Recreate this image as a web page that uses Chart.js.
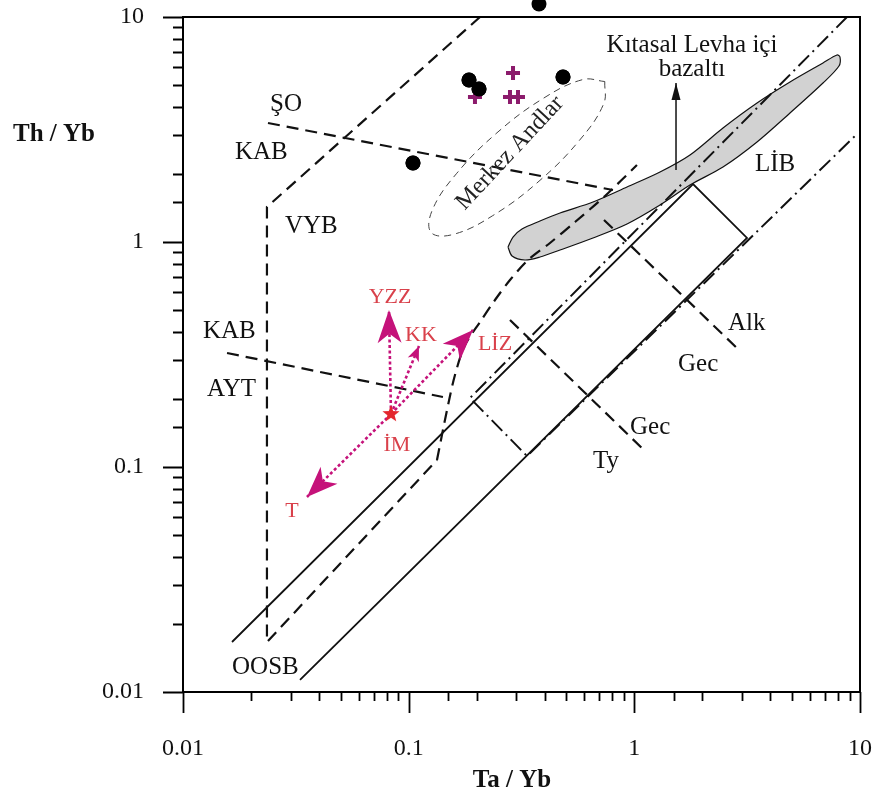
<!DOCTYPE html>
<html>
<head>
<meta charset="utf-8">
<script src="https://cdn.jsdelivr.net/npm/chart.js@4.4.1/dist/chart.umd.min.js"></script>
<style>
  html, body { margin: 0; padding: 0; background: #fff; }
  canvas { display: block; }
</style>
</head>
<body>
<canvas id="chart" width="873" height="798"></canvas>
<script>
// ─── DATA: Th/Yb vs Ta/Yb (log–log) ─────────────────────────────────────────
const TICK_VALUES = [0.01, 0.1, 1, 10];
const TICK_LABELS = ['0.01', '0.1', '1', '10'];

// samples
const DOT_X = [0.378, 0.1851, 0.2050, 0.4830, 0.1045];
const DOT_Y = [11.42, 5.248, 4.786, 5.412, 2.244];
const CROSS_X = [0.2900, 0.1967, 0.2812, 0.3051];
const CROSS_Y = [5.637, 4.411, 4.411, 4.411];

// volcanic arc field boundary (dashed): straight part, then curved part
const ARC_X = [0.2071, 0.02355, 0.02355, 0.1335];
const ARC_Y = [10, 1.431, 0.01668, 0.1074];
const ARC_CURVE_X = [0.1335, 0.1479, 0.1604, 0.1777, 0.2071, 0.2413, 0.2812, 0.3379, 0.4229, 0.5459, 0.7413, 1.027];
const ARC_CURVE_Y = [0.1074, 0.1792, 0.2564, 0.3485, 0.4410, 0.5523, 0.6779, 0.8318, 0.990, 1.227, 1.601, 2.199];

// SHO/CAB and CAB/TH divisions
const SHO_X = [0.0238, 0.8043];
const SHO_Y = [3.380, 1.702];
const THOL_X = [0.01567, 0.1419];
const THOL_Y = [0.3211, 0.2047];

// mantle array (solid) and its dash-dot twin
const ARRAY_X = [0.01649, 1.820, 3.157, 0.0330];
const ARRAY_Y = [0.01668, 1.810, 1.042, 0.01131];
const DASHDOT_X = [8.758, 0.1870, 0.3345, 9.797];
const DASHDOT_Y = [10, 0.2025, 0.1119, 3.051];

// transitional / alkaline cross lines
const GEC_LOW_X = [0.2812, 1.126];
const GEC_LOW_Y = [0.4500, 0.1166];
const GEC_HIGH_X = [0.7338, 2.939];
const GEC_HIGH_Y = [1.2524, 0.3279];

// within-plate basalt field (grey)
const WPB_X = [0.2755, 0.2900, 0.3178, 0.3819, 0.4685, 0.6558, 0.9280, 1.2995, 1.7647, 2.471, 3.497, 4.895, 6.855, 7.907, 8.153, 8.071,
               6.855, 4.895, 3.497, 2.471, 1.7647, 1.2995, 0.9280, 0.6558, 0.4685, 0.3819, 0.3277, 0.2871, 0.2755];
const WPB_Y = [0.9502, 1.0524, 1.1423, 1.2399, 1.3454, 1.5058, 1.7556, 2.047, 2.436, 3.211, 4.147, 5.141, 6.246, 6.779, 6.641, 6.056,
               5.089, 3.744, 2.783, 2.154, 1.792, 1.460, 1.2023, 1.042, 0.9213, 0.8577, 0.8318, 0.8666, 0.9502];
const WPB_ARROW_X = [1.530, 1.530];
const WPB_ARROW_Y = [2.089, 5.089];

// Central Andes outline (thin dashed)
const ANDES_X = [0.7397, 0.7314, 0.5720, 0.3780, 0.2359, 0.1577, 0.1258, 0.1272, 0.1627, 0.2462, 0.3946, 0.5904, 0.7397];
const ANDES_Y = [5.168, 4.113, 2.835, 1.863, 1.310, 1.081, 1.102, 1.384, 2.010, 3.057, 4.347, 5.270, 5.168];

// enrichment vectors from IM
const IM_X = 0.0835, IM_Y = 0.172;
const VEC_NAMES = ['YZZ', 'KK', 'LİZ', 'T'];
const VEC_X = [0.0818, 0.1111, 0.1928, 0.03543];
const VEC_Y = [0.4985, 0.3449, 0.4064, 0.0736];
const VEC_HEAD = [[33, 12], [15, 6], [31, 12], [31, 12]];

// field labels
const LABEL_TEXT = ['ŞO', 'KAB', 'VYB', 'KAB', 'AYT', 'OOSB', 'LİB', 'Alk', 'Gec', 'Gec', 'Ty'];
const LABEL_X = [0.02429, 0.01700, 0.02831, 0.01226, 0.01277, 0.01649, 3.426, 2.600, 1.561, 0.9568, 0.6558];
const LABEL_Y = [4.105, 2.512, 1.178, 0.4022, 0.2221, 0.01292, 2.222, 0.4365, 0.2870, 0.1506, 0.1063];
const WPB_TEXT = ['Kıtasal Levha içi', 'bazaltı'];
const WPB_TEXT_X = [1.801, 1.801];
const WPB_TEXT_Y = [7.508, 5.873];
const RED_TEXT = ['YZZ', 'KK', 'LİZ', 'T', 'İM'];
const RED_X = [0.08268, 0.1134, 0.2413, 0.0304, 0.0887];
const RED_Y = [0.5695, 0.3861, 0.3521, 0.0637, 0.1253];
const ANDES_TEXT = 'Merkez Andlar';
const ANDES_TEXT_X = 0.2812, ANDES_TEXT_Y = 2.486;

// ─── STYLE ──────────────────────────────────────────────────────────────────
const SERIF = "'Liberation Serif', 'Times New Roman', serif";
const MAGENTA = '#c5127a';
const RED_TXT = '#d9414b';
const DASH = [12, 7];
const DASH_DOT = [15, 5, 2, 5];

const pts = (xs, ys) => xs.map((x, i) => ({ x, y: ys[i] }));

function starCanvas(r, color) {
  const c = document.createElement('canvas');
  c.width = c.height = r * 2 + 2;
  const g = c.getContext('2d');
  g.beginPath();
  for (let k = 0; k < 10; k++) {
    const rr = k % 2 ? r * 0.42 : r;
    const a = -Math.PI / 2 + k * Math.PI / 5;
    g.lineTo(c.width / 2 + rr * Math.cos(a), c.height / 2 + rr * Math.sin(a));
  }
  g.closePath();
  g.fillStyle = color;
  g.fill();
  return c;
}

function lineDs(xs, ys, opts) {
  return Object.assign({
    data: pts(xs, ys),
    showLine: true,
    borderColor: '#111',
    borderWidth: 2,
    pointRadius: 0,
    fill: false,
    tension: 0,
    order: 5,
  }, opts);
}

const datasets = [
  lineDs(WPB_X, WPB_Y, { borderWidth: 1.2, backgroundColor: '#d2d2d2', fill: 'shape', tension: 0.3, order: 20 }),
  lineDs(ANDES_X, ANDES_Y, { borderWidth: 1, borderColor: '#444', borderDash: [7, 5], tension: 0.4 }),
  lineDs(ARC_X, ARC_Y, { borderWidth: 2.2, borderDash: DASH }),
  lineDs(ARC_CURVE_X, ARC_CURVE_Y, { borderWidth: 2.2, borderDash: DASH, tension: 0.3 }),
  lineDs(SHO_X, SHO_Y, { borderWidth: 2.2, borderDash: DASH }),
  lineDs(THOL_X, THOL_Y, { borderWidth: 2.2, borderDash: DASH }),
  lineDs(ARRAY_X, ARRAY_Y, { borderWidth: 1.8 }),
  lineDs(DASHDOT_X, DASHDOT_Y, { borderWidth: 2, borderDash: DASH_DOT }),
  lineDs(GEC_LOW_X, GEC_LOW_Y, { borderWidth: 2.2, borderDash: DASH }),
  lineDs(GEC_HIGH_X, GEC_HIGH_Y, { borderWidth: 2.2, borderDash: DASH }),
  lineDs(WPB_ARROW_X, WPB_ARROW_Y, { borderWidth: 1.5, arrowHead: [17, 4.5, 1] }),
  ...VEC_NAMES.map((name, i) => lineDs([IM_X, VEC_X[i]], [IM_Y, VEC_Y[i]], {
    label: name,
    borderColor: MAGENTA,
    borderWidth: 2.6,
    borderDash: [3, 2.5],
    arrowHead: [VEC_HEAD[i][0], VEC_HEAD[i][1], 0.72],
    order: 3,
  })),
  { data: pts([IM_X], [IM_Y]), showLine: false, pointStyle: starCanvas(9, '#e3262d'), pointRadius: 9, order: 1 },
  { data: pts(DOT_X, DOT_Y), showLine: false, pointStyle: 'circle', pointRadius: 7.5,
    backgroundColor: '#000', borderColor: '#000', borderWidth: 0, clip: false, drawOutside: true, order: 1 },
  { data: pts(CROSS_X, CROSS_Y), showLine: false, pointStyle: 'cross', pointRadius: 7,
    borderColor: '#8c1b6c', borderWidth: 4, order: 0 },
];

// ─── PLUGINS ────────────────────────────────────────────────────────────────
const isDecade = v => Math.abs(Math.log10(v) - Math.round(Math.log10(v))) < 1e-6;

// Arrow heads at the last point of a dataset (stealth-shaped when notch < 1),
// plus a redraw of points that sit outside the plot frame (PointElement skips them)
const arrowPlugin = {
  id: 'arrowHeads',
  afterDatasetsDraw(chart) {
    const { ctx } = chart;
    chart.data.datasets.forEach((ds, i) => {
      const el = chart.getDatasetMeta(i).data;
      if (ds.drawOutside) el.forEach(p => p.draw(ctx));
      if (!ds.arrowHead) return;
      const a = el[el.length - 2], b = el[el.length - 1];
      const [len, half, notch] = ds.arrowHead;
      ctx.save();
      ctx.translate(b.x, b.y);
      ctx.rotate(Math.atan2(b.y - a.y, b.x - a.x));
      ctx.beginPath();
      ctx.moveTo(0, 0);
      ctx.lineTo(-len, -half);
      ctx.lineTo(-len * notch, 0);
      ctx.lineTo(-len, half);
      ctx.closePath();
      ctx.fillStyle = ds.borderColor;
      ctx.fill();
      ctx.restore();
    });
  },
};

// Frame, outward tick marks, field labels and axis titles
const decorPlugin = {
  id: 'decor',
  afterDraw(chart) {
    const { ctx, chartArea: a, scales: { x, y } } = chart;
    ctx.save();
    ctx.strokeStyle = '#000';
    ctx.lineWidth = 2;
    ctx.beginPath();
    ctx.moveTo(a.left, a.top);
    ctx.lineTo(a.right, a.top);
    ctx.lineTo(a.right, a.bottom);
    ctx.stroke();

    ctx.lineWidth = 1.8;
    ctx.beginPath();
    x.ticks.forEach(t => {
      const px = Math.round(x.getPixelForValue(t.value)) + 0.5;
      ctx.moveTo(px, a.bottom);
      ctx.lineTo(px, a.bottom + (isDecade(t.value) ? 21 : 9));
    });
    y.ticks.forEach(t => {
      const py = Math.round(y.getPixelForValue(t.value)) + 0.5;
      ctx.moveTo(a.left, py);
      ctx.lineTo(a.left - (isDecade(t.value) ? 20 : 10), py);
    });
    ctx.stroke();

    ctx.textBaseline = 'middle';
    ctx.fillStyle = '#111';
    ctx.font = `25px ${SERIF}`;
    ctx.textAlign = 'left';
    LABEL_TEXT.forEach((s, i) => ctx.fillText(s, x.getPixelForValue(LABEL_X[i]), y.getPixelForValue(LABEL_Y[i])));
    ctx.textAlign = 'center';
    WPB_TEXT.forEach((s, i) => ctx.fillText(s, x.getPixelForValue(WPB_TEXT_X[i]), y.getPixelForValue(WPB_TEXT_Y[i])));

    ctx.fillStyle = RED_TXT;
    ctx.font = `22px ${SERIF}`;
    RED_TEXT.forEach((s, i) => ctx.fillText(s, x.getPixelForValue(RED_X[i]), y.getPixelForValue(RED_Y[i])));

    ctx.save();
    ctx.fillStyle = '#222';
    ctx.font = `24px ${SERIF}`;
    ctx.translate(x.getPixelForValue(ANDES_TEXT_X), y.getPixelForValue(ANDES_TEXT_Y));
    ctx.rotate(-47 * Math.PI / 180);
    ctx.fillText(ANDES_TEXT, 0, 0);
    ctx.restore();

    // axis titles
    ctx.fillStyle = '#111';
    ctx.font = `bold 25px ${SERIF}`;
    ctx.textAlign = 'left';
    ctx.fillText('Th / Yb', a.left - 170, a.top + 118);
    ctx.textAlign = 'center';
    ctx.fillText('Ta / Yb', a.left + 329, a.bottom + 89);
    ctx.restore();
  },
};

const tickLabel = v => {
  const i = TICK_VALUES.findIndex(t => Math.abs(t - v) / t < 1e-6);
  return i >= 0 ? TICK_LABELS[i] : '';
};

const axisCommon = {
  type: 'logarithmic',
  min: 0.01,
  max: 10,
  offset: false,
  grid: { display: false },
  border: { display: true, color: '#000', width: 2 },
};

new Chart(document.getElementById('chart'), {
  type: 'line',
  data: { datasets },
  options: {
    responsive: false,
    animation: false,
    layout: { padding: { top: 17, right: 13, left: 0, bottom: 0 } },
    plugins: { legend: { display: false }, tooltip: { enabled: false } },
    scales: {
      x: {
        ...axisCommon,
        position: 'bottom',
        ticks: { autoSkip: false, maxRotation: 0, padding: 34, color: '#111',
                 font: { family: SERIF, size: 24 }, callback: tickLabel },
        afterFit: s => { s.height = 106; s.paddingLeft = 0; s.paddingRight = 0; },
      },
      y: {
        ...axisCommon,
        position: 'left',
        ticks: { autoSkip: false, padding: 31, color: '#111',
                 font: { family: SERIF, size: 24 }, callback: tickLabel },
        afterFit: s => { s.width = 183; s.paddingTop = 0; s.paddingBottom = 0; },
      },
    },
  },
  plugins: [arrowPlugin, decorPlugin],
});
</script>
</body>
</html>
